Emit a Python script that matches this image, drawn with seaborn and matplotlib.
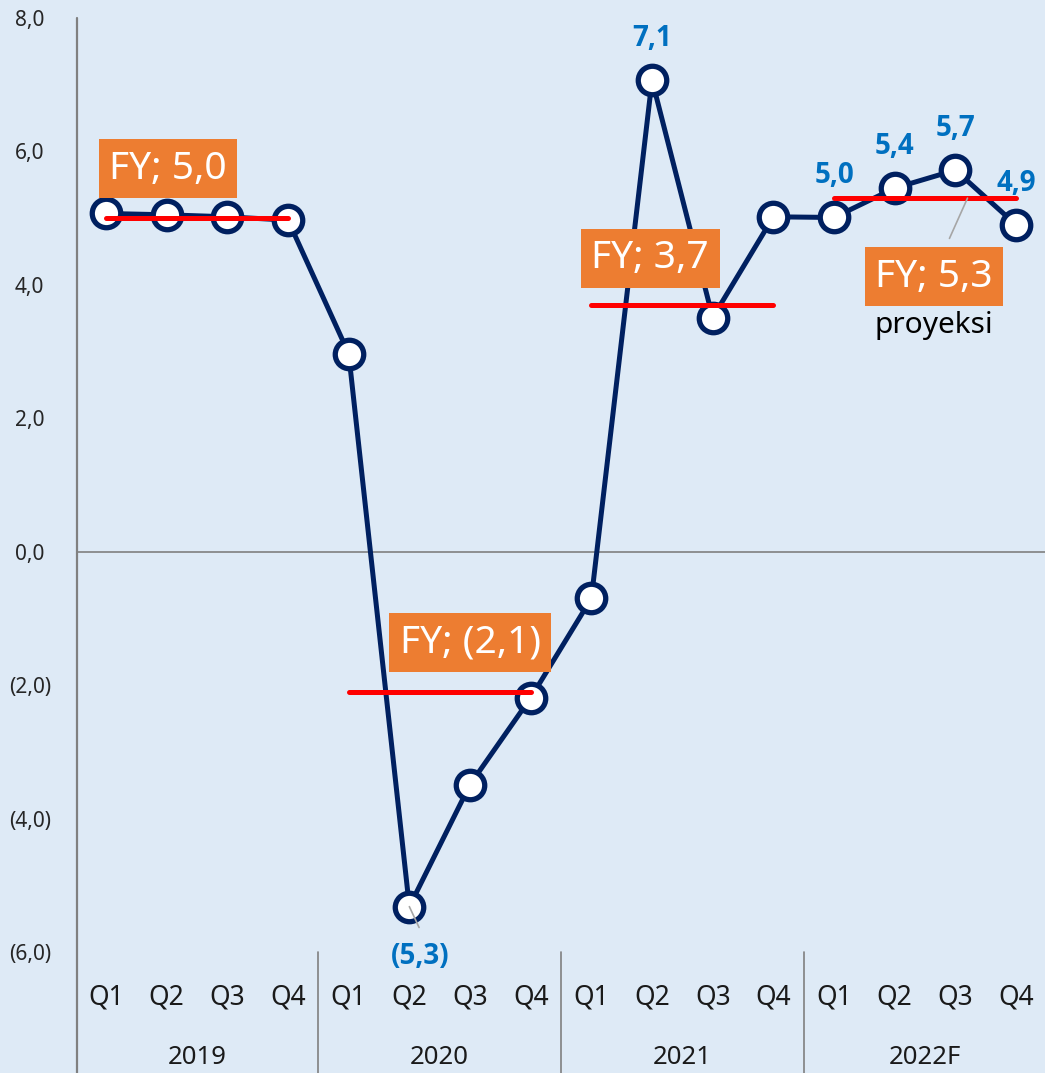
import matplotlib
matplotlib.use("Agg")
import matplotlib.pyplot as plt
import matplotlib.transforms as mtransforms
from matplotlib.lines import Line2D
import seaborn as sns
import pandas as pd

# ---- data ----
years = ["2019", "2020", "2021", "2022F"]
quarters = ["Q1", "Q2", "Q3", "Q4"]
gdp_growth = [5.07, 5.05, 5.02, 4.97,
              2.97, -5.32, -3.49, -2.19,
              -0.70, 7.07, 3.51, 5.02,
              5.01, 5.45, 5.72, 4.90]
fy_values = [5.0, -2.1, 3.7, 5.3]
fy_labels = ["FY; 5,0", "FY; (2,1)", "FY; 3,7", "FY; 5,3"]
# annotation anchor positions (x index, y value) for FY boxes
fy_box_x = [1.02, 6.0, 8.97, 13.65]
fy_box_y = [5.74, -1.36, 4.40, 4.12]
# data labels shown
label_idx = [5, 9, 12, 13, 14, 15]
label_txt = ["(5,3)", "7,1", "5,0", "5,4", "5,7", "4,9"]
yticks = [-6, -4, -2, 0, 2, 4, 6, 8]
ytick_labels = ["(6,0)", "(4,0)", "(2,0)", "0,0", "2,0", "4,0", "6,0", "8,0"]

BG = "#DEEAF6"
NAVY = "#002060"
ORANGE = "#ED7D31"
BLUE = "#0070C0"

sns.set_theme(style="white")
plt.rcParams["font.family"] = ["Noto Sans", "DejaVu Sans"]

W, H = 1045, 1073
fig = plt.figure(figsize=(W / 100, H / 100), dpi=100, facecolor=BG)
ax_left, ax_bottom, ax_top = 77, 952, 18
ax = fig.add_axes([ax_left / W, (H - ax_bottom) / H, (W - ax_left) / W, (ax_bottom - ax_top) / H])
ax.set_facecolor(BG)

n = len(gdp_growth)
df = pd.DataFrame({"idx": list(range(n)), "growth": gdp_growth})

ax.axhline(0, color="#808080", lw=1.2, zorder=1)

sns.lineplot(data=df, x="idx", y="growth", ax=ax, color=NAVY, lw=3.6, sort=False,
             marker="o", markersize=20.5, markerfacecolor="white",
             markeredgecolor=NAVY, markeredgewidth=3.8, zorder=3)

# FY average lines
for i, v in enumerate(fy_values):
    ax.plot([4 * i, 4 * i + 3], [v, v], color="#FF0000", lw=3.6,
            solid_capstyle="round", zorder=4)

# FY boxes
for x, y, t in zip(fy_box_x, fy_box_y, fy_labels):
    ax.text(x, y, t, ha="center", va="center", color="white", fontsize=28,
            zorder=6, bbox=dict(boxstyle="square,pad=0.27", fc=ORANGE, ec="none"))
ax.text(fy_box_x[3], 3.39, "proyeksi", ha="center", va="center",
        color="black", fontsize=21.5, zorder=6)
# leader for FY 2022
ax.annotate("", xy=(14.2, fy_values[3]), xytext=(-13, -29), textcoords="offset points",
            arrowprops=dict(arrowstyle="-", color="#A6A6A6", lw=1.2,
                            shrinkA=0, shrinkB=0), zorder=5)

# data labels
lab_kw = dict(family=["Open Sans", "DejaVu Sans"], fontweight="bold", fontsize=20,
              color=BLUE, ha="center", va="center")
for i, t in zip(label_idx, label_txt):
    y = gdp_growth[i]
    if y < 0:
        ax.annotate(t, (i, y), xytext=(8, -36), textcoords="offset points",
                    annotation_clip=False, **lab_kw)
        ax.annotate("", xy=(i, y), xytext=(7, -15), textcoords="offset points",
                    arrowprops=dict(arrowstyle="-", color="#A6A6A6", lw=1.2,
                                    shrinkA=0, shrinkB=0), zorder=5)
    else:
        ax.annotate(t, (i, y), xytext=(0, 30), textcoords="offset points", **lab_kw)

# axes
ax.set_ylim(-6, 8)
ax.set_xlim(-29 / 60.67, (W - 106) / 60.67)
ax.set_yticks(yticks)
ax.set_yticklabels(ytick_labels)
ax.set_xticks(range(n))
ax.set_xticklabels(quarters * len(years))
ax.tick_params(axis="y", length=0, pad=34, labelsize=15, labelcolor="#262626")
ax.tick_params(axis="x", length=0, pad=23, labelsize=19, labelcolor="#1a1a1a")
for lab in ax.get_yticklabels():
    lab.set_ha("center")
ax.set_xlabel("")
ax.set_ylabel("")
for s in ax.spines.values():
    s.set_visible(False)

bottom_frac = -(H - ax_bottom) / (ax_bottom - ax_top)
# left axis line extending into category area
ax.add_line(Line2D([0, 0], [bottom_frac, 1], transform=ax.transAxes,
                   color="#808080", lw=1.6, clip_on=False))
trans = mtransforms.blended_transform_factory(ax.transData, ax.transAxes)
for k in range(1, len(years)):
    xs = 4 * k - 0.5
    ax.add_line(Line2D([xs, xs], [bottom_frac, 0], transform=trans,
                       color="#808080", lw=1.2, clip_on=False))
for k, yr in enumerate(years):
    ax.text(4 * k + 1.5, -105 / 934, yr, transform=trans, ha="center", va="center",
            fontsize=18.5, color="#1a1a1a", clip_on=False)

fig.savefig("out.png", dpi=100, facecolor=BG)
